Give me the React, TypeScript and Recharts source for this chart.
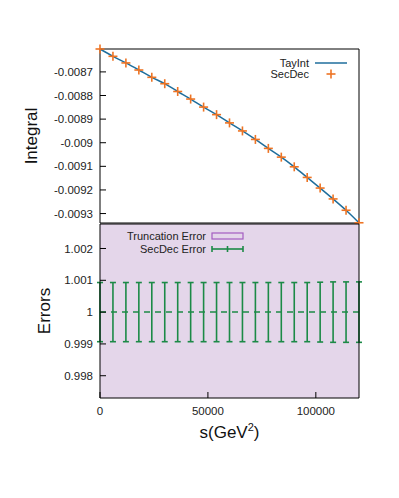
import {
  Area,
  ComposedChart,
  ErrorBar,
  Label,
  Line,
  Scatter,
  XAxis,
  YAxis,
} from 'recharts'

// s values (GeV^2)
const sValues = [
  0, 6000, 12000, 18000, 24000, 30000, 36000, 42000, 48000, 54000, 60000,
  66000, 72000, 78000, 84000, 90000, 96000, 102000, 108000, 114000, 120000,
]
const integralValues = [
  -0.008603, -0.008634, -0.008662, -0.008692, -0.008723, -0.00875, -0.008783,
  -0.008815, -0.008849, -0.008881, -0.008916, -0.00895, -0.008986, -0.009024,
  -0.009061, -0.009102, -0.009147, -0.009192, -0.009238, -0.009286, -0.009339,
]
const ratioValues = [1, 1, 1, 1, 1, 1, 1, 1, 1, 1, 1, 1, 1, 1, 1, 1, 1, 1, 1, 1, 1]
const secDecErrors = [
  0.00093, 0.00093, 0.00093, 0.00093, 0.00093, 0.00093, 0.00093, 0.00093,
  0.00093, 0.00093, 0.00093, 0.00093, 0.00093, 0.00093, 0.00093, 0.00093,
  0.00093, 0.00094, 0.00095, 0.00095, 0.00095,
]
const truncLow = [
  0.9968, 0.9968, 0.9968, 0.9968, 0.9968, 0.9968, 0.9968, 0.9968, 0.9968,
  0.9968, 0.9968, 0.9968, 0.9968, 0.9968, 0.9968, 0.9968, 0.9968, 0.9968,
  0.9968, 0.9968, 0.9968,
]
const truncHigh = [
  1.0032, 1.0032, 1.0032, 1.0032, 1.0032, 1.0032, 1.0032, 1.0032, 1.0032,
  1.0032, 1.0032, 1.0032, 1.0032, 1.0032, 1.0032, 1.0032, 1.0032, 1.0032,
  1.0032, 1.0032, 1.0032,
]
const xTicks = [0, 50000, 100000]
const integralTicks = [-0.0093, -0.0092, -0.0091, -0.009, -0.0089, -0.0088, -0.0087]
const errorTicks = [0.998, 0.999, 1, 1.001, 1.002]

const topData = sValues.map((s, i) => ({ s, integral: integralValues[i] }))
const bottomData = sValues.map((s, i) => ({
  s,
  ratio: ratioValues[i],
  err: secDecErrors[i],
  trunc: [truncLow[i], truncHigh[i]],
}))

const BLUE = '#1f6e9c'
const ORANGE = '#ee7424'
const GREEN = '#1c8a47'
const PURPLE_FILL = '#e4d6ea'
const PURPLE_EDGE = '#a45cc0'
const FONT = '"Liberation Sans", Arial, sans-serif'
const tickStyle = { fontSize: 11.5, fill: '#222', fontFamily: FONT }

const Cross = (props: any) => {
  const { cx, cy } = props
  if (cx == null || cy == null) return null
  return (
    <g stroke={ORANGE} strokeWidth={1.6}>
      <line x1={cx - 4.5} x2={cx + 4.5} y1={cy} y2={cy} />
      <line x1={cx} x2={cx} y1={cy - 4.5} y2={cy + 4.5} />
    </g>
  )
}

const rotatedLabel = (text: string, dx: number) => ({ viewBox }: any) => {
  const x = viewBox.x + dx
  const y = viewBox.y + viewBox.height / 2
  return (
    <text
      x={x}
      y={y}
      transform={`rotate(-90 ${x} ${y})`}
      textAnchor="middle"
      dominantBaseline="central"
      style={{ fontSize: 17, fill: '#111', fontFamily: FONT }}
    >
      {text}
    </text>
  )
}

export default function App() {
  return (
    <div
      style={{
        position: 'relative',
        margin: -8,
        width: 399,
        height: 498,
        background: '#fff',
        fontFamily: FONT,
      }}
    >
      <div style={{ position: 'absolute', left: 0, top: 0 }}>
        <ComposedChart
          width={399}
          height={224}
          data={topData}
          margin={{ top: 0, right: 0, bottom: 0, left: 0 }}
        >
          <Line
            dataKey="integral"
            type="monotone"
            stroke={BLUE}
            strokeWidth={1.5}
            dot={false}
            isAnimationActive={false}
          />
          <Scatter dataKey="integral" shape={<Cross />} isAnimationActive={false} />
          <XAxis
            dataKey="s"
            type="number"
            domain={[0, 120000]}
            ticks={xTicks}
            tick={false}
            tickSize={-6}
            height={1}
            stroke="#000"
          />
          <XAxis
            xAxisId="t"
            orientation="top"
            dataKey="s"
            type="number"
            domain={[0, 120000]}
            ticks={xTicks}
            tick={false}
            tickSize={-6}
            height={49}
            stroke="#000"
          />
          <YAxis
            type="number"
            domain={[-0.00934, -0.008603]}
            ticks={integralTicks}
            width={100}
            tickSize={-6}
            tickMargin={13}
            tick={tickStyle}
            tickFormatter={(v: number) => String(+v.toFixed(4))}
            stroke="#000"
          >
            <Label content={rotatedLabel('Integral', 31)} />
          </YAxis>
          <YAxis
            yAxisId="r"
            orientation="right"
            type="number"
            domain={[-0.00934, -0.008603]}
            ticks={integralTicks}
            width={40}
            tick={false}
            tickSize={-6}
            stroke="#000"
          />
        </ComposedChart>
      </div>

      <div style={{ position: 'absolute', left: 0, top: 223 }}>
        <ComposedChart
          width={399}
          height={275}
          data={bottomData}
          margin={{ top: 0, right: 0, bottom: 0, left: 0 }}
        >
          <Area
            dataKey="trunc"
            type="linear"
            fill={PURPLE_FILL}
            fillOpacity={1}
            stroke="none"
            isAnimationActive={false}
          />
          <Line
            dataKey="ratio"
            type="linear"
            stroke={GREEN}
            strokeWidth={1.5}
            strokeDasharray="6 5"
            dot={false}
            isAnimationActive={false}
          >
            <ErrorBar dataKey="err" width={3} stroke={GREEN} strokeWidth={1.6} />
          </Line>
          <XAxis
            dataKey="s"
            type="number"
            domain={[0, 120000]}
            ticks={xTicks}
            tickSize={-6}
            tickMargin={15}
            height={100}
            tick={tickStyle}
            stroke="#000"
          >
            <Label
              content={({ viewBox }: any) => (
                <text
                  x={viewBox.x + viewBox.width / 2}
                  y={viewBox.y + 40}
                  textAnchor="middle"
                  style={{ fontSize: 17, fill: '#111', fontFamily: FONT }}
                >
                  s(GeV
                  <tspan dy={-7} style={{ fontSize: 11 }}>
                    2
                  </tspan>
                  <tspan dy={7}>)</tspan>
                </text>
              )}
            />
          </XAxis>
          <XAxis
            xAxisId="t"
            orientation="top"
            dataKey="s"
            type="number"
            domain={[0, 120000]}
            ticks={xTicks}
            tick={false}
            tickSize={-6}
            height={1}
            stroke="#000"
          />
          <YAxis
            type="number"
            domain={[0.9973, 1.00277]}
            ticks={errorTicks}
            allowDataOverflow
            width={100}
            tickSize={-6}
            tickMargin={13}
            tick={tickStyle}
            tickFormatter={(v: number) => String(+v.toFixed(3))}
            stroke="#000"
          >
            <Label content={rotatedLabel('Errors', 44)} />
          </YAxis>
          <YAxis
            yAxisId="r"
            orientation="right"
            type="number"
            domain={[0.9973, 1.00277]}
            ticks={errorTicks}
            width={40}
            tick={false}
            tickSize={-6}
            stroke="#000"
          />
        </ComposedChart>
      </div>

      <svg
        width={399}
        height={498}
        style={{ position: 'absolute', left: 0, top: 0, pointerEvents: 'none' }}
      >
        <g style={{ fontSize: 11, fill: '#222', fontFamily: FONT }}>
          <text x={309} y={63} textAnchor="end" dominantBaseline="central">
            TayInt
          </text>
          <text x={309} y={74} textAnchor="end" dominantBaseline="central">
            SecDec
          </text>
          <text x={206} y={236} textAnchor="end" dominantBaseline="central">
            Truncation Error
          </text>
          <text x={206} y={249} textAnchor="end" dominantBaseline="central">
            SecDec Error
          </text>
        </g>
        <line x1={315} x2={347} y1={63} y2={63} stroke={BLUE} strokeWidth={1.5} />
        <g stroke={ORANGE} strokeWidth={1.6}>
          <line x1={326.5} x2={335.5} y1={74} y2={74} />
          <line x1={331} x2={331} y1={69.5} y2={78.5} />
        </g>
        <rect
          x={212}
          y={233}
          width={31}
          height={6}
          fill={PURPLE_FILL}
          stroke={PURPLE_EDGE}
          strokeWidth={1.2}
        />
        <g stroke={GREEN} strokeWidth={1.6}>
          <line x1={212} x2={243} y1={249} y2={249} />
          <line x1={212} x2={212} y1={246} y2={252} />
          <line x1={243} x2={243} y1={246} y2={252} />
          <line x1={227.5} x2={227.5} y1={246} y2={252} />
        </g>
      </svg>
    </div>
  )
}
